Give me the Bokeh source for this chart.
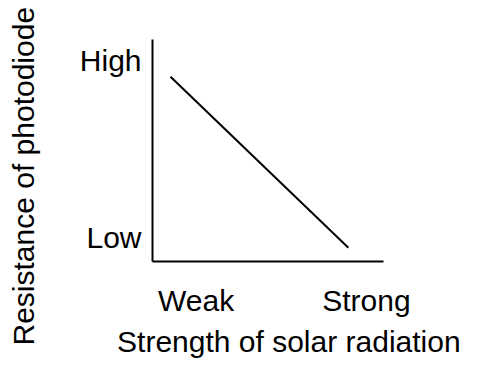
from bokeh.plotting import figure
from bokeh.models import Range1d, FixedTicker, Title
from bokeh.embed import file_html
from bokeh.resources import INLINE

# Data
x_tick_pos = [0.189, 0.926]
x_tick_labels = ["Weak", "Strong"]
y_tick_pos = [0.106, 0.907]
y_tick_labels = ["Low", "High"]
line_x = [0.078, 0.848]
line_y = [0.832, 0.062]
x_title = "Strength of solar radiation"
y_title = "Resistance of photodiode"

FONT = "Liberation Sans"
FS = "30px"
NB = "\u00a0"

p = figure(width=488, height=360, output_backend="svg", toolbar_location=None,
           x_range=Range1d(0, 1), y_range=Range1d(0, 1),
           min_border_left=152, min_border_right=105, min_border_top=39, min_border_bottom=94)
p.outline_line_color = None
p.xgrid.grid_line_color = None
p.ygrid.grid_line_color = None
p.background_fill_color = "white"
p.border_fill_color = "white"

p.line(line_x, line_y, line_color="black", line_width=2)

for ax, pos, labs in ((p.xaxis[0], x_tick_pos, x_tick_labels), (p.yaxis[0], y_tick_pos, y_tick_labels)):
    ax.ticker = FixedTicker(ticks=pos)
    ax.major_label_overrides = {pv: lb for pv, lb in zip(pos, labs)}
    ax.major_tick_line_color = None
    ax.minor_tick_line_color = None
    ax.axis_line_color = "black"
    ax.axis_line_width = 2
    ax.major_label_text_font = FONT
    ax.major_label_text_font_size = FS
    ax.major_label_text_color = "black"
    ax.axis_label_text_font = FONT
    ax.axis_label_text_font_size = FS
    ax.axis_label_text_font_style = "normal"
    ax.axis_label_text_color = "black"

p.xaxis.major_label_standoff = 16
p.yaxis.major_label_standoff = 5

# x title: padding shifts the centred label to where the reference draws it
p.xaxis.axis_label = NB * 5 + x_title
p.xaxis.axis_label_standoff = 5

# y title: blank axis label acts as spacer, title placed from the bottom
p.yaxis.axis_label = NB
p.yaxis.axis_label_standoff = 0
p.add_layout(Title(text=y_title, align="left", offset=-84, standoff=2,
                   text_font=FONT, text_font_size=FS, text_font_style="normal",
                   text_color="black"), "left")

open("out.html", "w").write(file_html(p, INLINE))
